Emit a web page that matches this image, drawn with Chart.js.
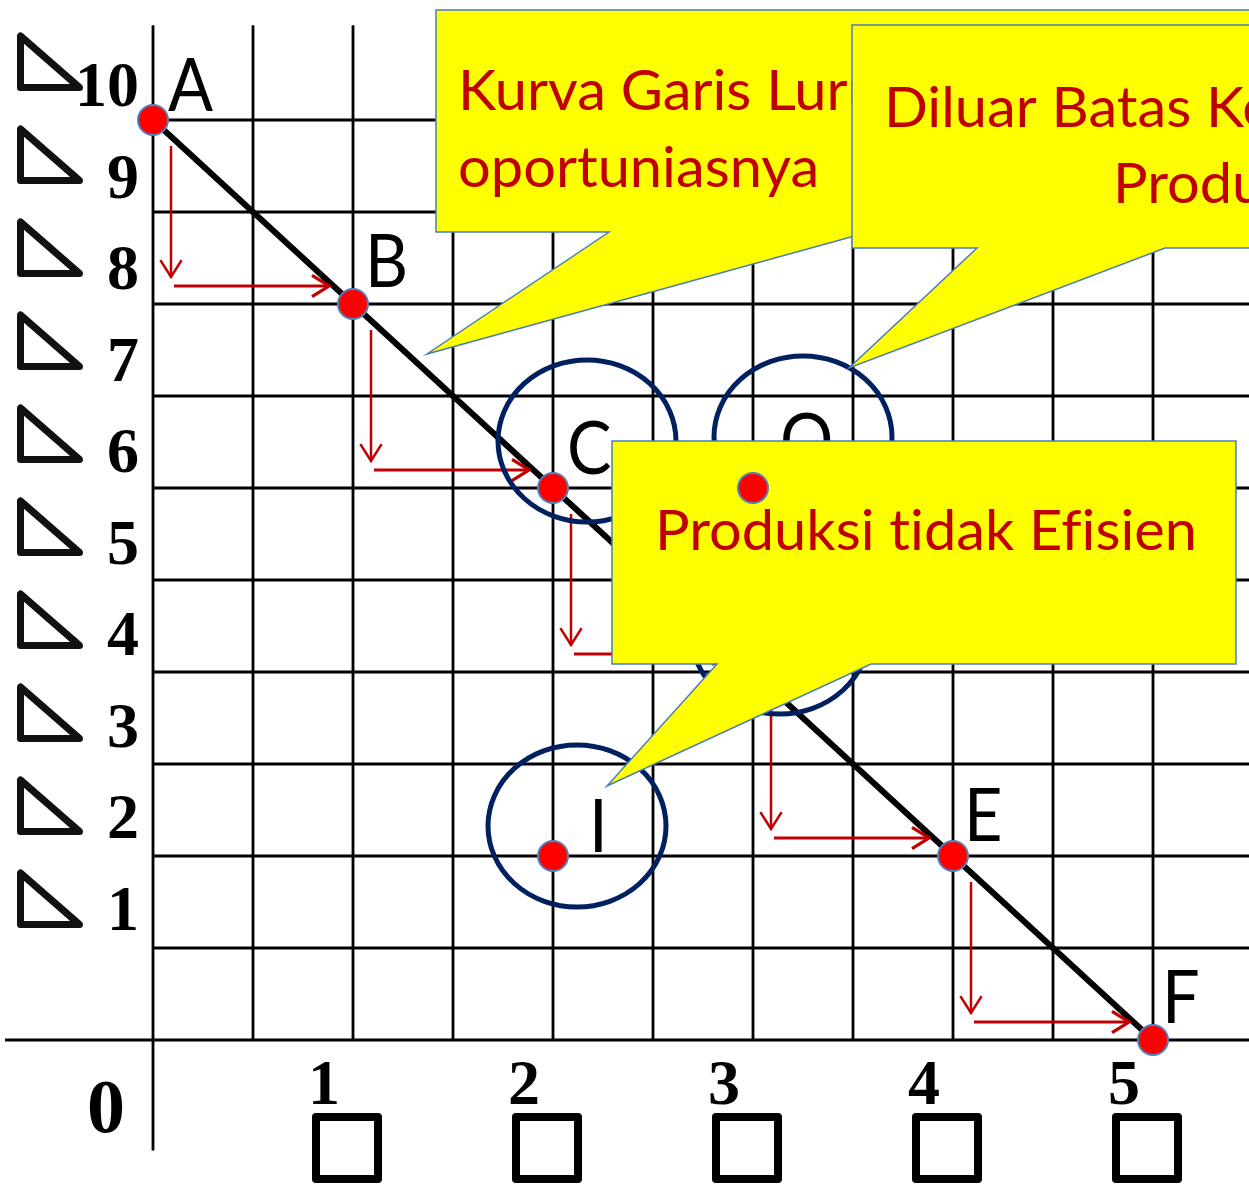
<!DOCTYPE html>
<html>
<head>
<meta charset="utf-8">
<script src="https://cdn.jsdelivr.net/npm/chart.js@4.4.0/dist/chart.umd.min.js"></script>
<style>
  html, body { margin: 0; padding: 0; background: #fff; }
  #wrap { width: 1249px; height: 1189px; }
</style>
</head>
<body>
<div id="wrap"><canvas id="grafik"></canvas></div>
<script>
// ================= DATA =================
const namaTitik = ['A', 'B', 'C', 'D', 'E', 'F'];
const barangX = [0, 1, 2, 3, 4, 5];
const barangY = [10, 8, 6, 4, 2, 0];

const namaLain = ['I', 'O'];
const lainX = [2, 3];
const lainY = [2, 6];

const tickX = [1, 2, 3, 4, 5];
const tickY = [10, 9, 8, 7, 6, 5, 4, 3, 2, 1];
const garisX = [0.5, 1, 1.5, 2, 2.5, 3, 3.5, 4, 4.5, 5];
const garisY = [1, 2, 3, 4, 5, 6, 7, 8, 9, 10];
const dilingkari = ['C', 'O', 'D', 'I'];

// ================= GAYA =================
const MERAH_TEKS = '#C00000';
const KUNING = '#FFFF00';
const BIRU_TEPI = '#4A7EBB';
const NAVY = '#002060';
const FONT_HURUF = 'Lato, "Open Sans", sans-serif';
const FONT_ANGKA = '"Liberation Serif", "Times New Roman", serif';

// posisi label huruf relatif ke titik (piksel)
const geserLabel = {
  A: [15, -9], B: [12, -17], C: [14, -14], D: [14, -15],
  E: [11, -15], F: [9, -17], I: [36, -4], O: [27, -22]
};
// pusat lingkaran relatif ke titik
const geserLingkaran = { C: [34, -47], O: [50, -51], D: [27, -39], I: [24, -30] };

const callouts = [
  { kotak: [436, 10, 950, 222], dasar: [609, 869], ujung: [427, 354],
    baris: [['Kurva Garis Lurus', 458, 110], ['oportuniasnya', 458, 187]] },
  { kotak: [852, 25, 650, 223], dasar: [977, 1165], ujung: [849, 368],
    baris: [['Diluar Batas Kemungkinan', 884, 127], ['Produksi', 1113, 203]] },
  { kotak: [612, 441, 624, 223], dasar: [717, 871], ujung: [607, 786],
    baris: [['Produksi tidak Efisien', 655, 550]] }
];

function tulis(ctx, teks, x, y, font, warna, sx, align) {
  ctx.save();
  ctx.font = font;
  ctx.fillStyle = warna;
  ctx.textBaseline = 'alphabetic';
  ctx.textAlign = align || 'left';
  ctx.letterSpacing = '0.01px'; // supaya tidak ada ligatur fi / ti
  ctx.translate(x, y);
  ctx.scale(sx, 1);
  ctx.fillText(teks, 0, 0);
  ctx.restore();
}

function garis(ctx, x1, y1, x2, y2) {
  ctx.beginPath();
  ctx.moveTo(x1, y1);
  ctx.lineTo(x2, y2);
  ctx.stroke();
}

function panah(ctx, x1, y1, x2, y2, lebar) {
  const sudut = Math.atan2(y2 - y1, x2 - x1);
  ctx.lineWidth = lebar;
  garis(ctx, x1, y1, x2, y2);
  ctx.beginPath();
  ctx.moveTo(x2 - 20 * Math.cos(sudut - 0.56), y2 - 20 * Math.sin(sudut - 0.56));
  ctx.lineTo(x2, y2);
  ctx.lineTo(x2 - 20 * Math.cos(sudut + 0.56), y2 - 20 * Math.sin(sudut + 0.56));
  ctx.stroke();
}

function gambarCallout(ctx, c) {
  const [x, y, w, h] = c.kotak;
  const bawah = y + h;
  ctx.save();
  ctx.beginPath();
  ctx.moveTo(x, y);
  ctx.lineTo(x + w, y);
  ctx.lineTo(x + w, bawah);
  ctx.lineTo(c.dasar[1], bawah);
  ctx.lineTo(c.ujung[0], c.ujung[1]);
  ctx.lineTo(c.dasar[0], bawah);
  ctx.lineTo(x, bawah);
  ctx.closePath();
  ctx.fillStyle = KUNING;
  ctx.fill();
  ctx.strokeStyle = BIRU_TEPI;
  ctx.lineWidth = 1.5;
  ctx.stroke();

  const font = '56px ' + FONT_HURUF;
  ctx.font = font;
  ctx.letterSpacing = '0.01px';
  const sx = 542 / ctx.measureText('Produksi tidak Efisien').width;
  c.baris.forEach(b => tulis(ctx, b[0], b[1], b[2], font, MERAH_TEKS, sx));
  ctx.restore();
}

// ================= PLUGIN GAMBAR =================
const latarGrafik = {
  id: 'latarGrafik',
  beforeDatasetsDraw(chart) {
    const ctx = chart.ctx;
    const sx = chart.scales.x, sy = chart.scales.y;
    const x0 = sx.getPixelForValue(0), y0 = sy.getPixelForValue(0);
    const atas = sy.getPixelForValue(11.03);
    ctx.save();
    ctx.strokeStyle = '#000';
    ctx.lineWidth = 2.8;
    garisX.forEach(v => {
      const px = sx.getPixelForValue(v);
      garis(ctx, px, atas, px, y0);
    });
    garisY.forEach(v => {
      const py = sy.getPixelForValue(v);
      garis(ctx, x0, py, chart.width, py);
    });
    // sumbu
    garis(ctx, x0, atas, x0, sy.getPixelForValue(-1.2));
    garis(ctx, 5, y0, chart.width, y0);

    // label sumbu Y dengan segitiga
    ctx.lineWidth = 7;
    ctx.lineJoin = 'round';
    ctx.strokeStyle = '#111';
    tickY.forEach(v => {
      const py = sy.getPixelForValue(v);
      const t = py - 83 - (v - 5.5);
      ctx.beginPath();
      ctx.moveTo(20.5, t + 3.5);
      ctx.lineTo(20.5, t + 55);
      ctx.lineTo(79.5, t + 55);
      ctx.closePath();
      ctx.stroke();
      tulis(ctx, String(v), 139, py - 16 + (v - 5.5) * 0.44, 'bold 64px ' + FONT_ANGKA, '#000', 1, 'right');
    });

    // label sumbu X dengan kotak
    ctx.lineWidth = 8;
    ctx.strokeStyle = '#000';
    tickX.forEach(v => {
      const px = sx.getPixelForValue(v);
      tulis(ctx, String(v), px - 29, 1104, 'bold 64px ' + FONT_ANGKA, '#000', 1, 'center');
      ctx.strokeRect(px - 41 + 4, 1113 + 4, 62, 62);
    });
    tulis(ctx, '0', 106, 1132, 'bold 76px ' + FONT_ANGKA, '#000', 1, 'center');
    ctx.restore();
  },
  afterDatasetDraw(chart, args) {
    if (args.meta.label !== 'Titik') return;
    const ctx = chart.ctx;
    const sx = chart.scales.x, sy = chart.scales.y;
    const posisi = {};
    namaTitik.forEach((n, i) => {
      posisi[n] = [sx.getPixelForValue(barangX[i]), sy.getPixelForValue(barangY[i])];
    });
    namaLain.forEach((n, i) => {
      posisi[n] = [sx.getPixelForValue(lainX[i]), sy.getPixelForValue(lainY[i])];
    });

    ctx.save();
    // panah biaya peluang
    ctx.strokeStyle = MERAH_TEKS;
    ctx.lineCap = 'butt';
    for (let i = 0; i < namaTitik.length - 1; i++) {
      const [xa, ya] = posisi[namaTitik[i]];
      const [xb, yb] = posisi[namaTitik[i + 1]];
      panah(ctx, xa + 18, ya + 26, xa + 18, yb - 27, 2.5);
      panah(ctx, xa + 21, yb - 18, xb - 24, yb - 18, 3.2);
    }

    // lingkaran
    ctx.strokeStyle = NAVY;
    ctx.lineWidth = 5;
    dilingkari.forEach(n => {
      const [px, py] = posisi[n];
      const g = geserLingkaran[n];
      ctx.beginPath();
      ctx.ellipse(px + g[0], py + g[1], 89, 81, 0, 0, Math.PI * 2);
      ctx.stroke();
    });

    // label huruf
    const fontHuruf = '74px ' + FONT_HURUF;
    [...namaTitik, ...namaLain].forEach(n => {
      const [px, py] = posisi[n];
      const g = geserLabel[n];
      tulis(ctx, n, px + g[0], py + g[1], fontHuruf, '#000', 0.9);
    });

    // balon keterangan
    callouts.forEach(c => gambarCallout(ctx, c));
    ctx.restore();
  }
};

// ================= GRAFIK =================
const gayaTitik = {
  pointRadius: 15,
  pointBackgroundColor: '#FF0000',
  pointBorderColor: '#4F81BD',
  pointBorderWidth: 2,
  showLine: false
};

new Chart(document.getElementById('grafik'), {
  type: 'scatter',
  data: {
    datasets: [
      Object.assign({
        label: 'Titik O',
        order: 0,
        data: lainX.slice(1).map((x, i) => ({ x: x, y: lainY[i + 1] }))
      }, gayaTitik),
      Object.assign({
        label: 'Titik',
        order: 1,
        data: barangX.map((x, i) => ({ x: x, y: barangY[i] }))
          .filter((p, i) => namaTitik[i] !== 'D')
          .concat([{ x: lainX[0], y: lainY[0] }])
      }, gayaTitik),
      {
        label: 'Kurva',
        order: 2,
        data: barangX.map((x, i) => ({ x: x, y: barangY[i] })),
        showLine: true,
        borderColor: '#000',
        borderWidth: 6,
        pointRadius: 0,
        fill: false
      }
    ]
  },
  options: {
    responsive: true,
    maintainAspectRatio: false,
    animation: false,
    events: [],
    layout: { padding: 0, autoPadding: false },
    plugins: { legend: { display: false }, tooltip: { enabled: false } },
    scales: {
      x: { type: 'linear', min: -0.765, max: 5.48, display: false },
      y: { type: 'linear', min: -1.6196, max: 11.3043, display: false }
    }
  },
  plugins: [latarGrafik]
});
</script>
</body>
</html>
